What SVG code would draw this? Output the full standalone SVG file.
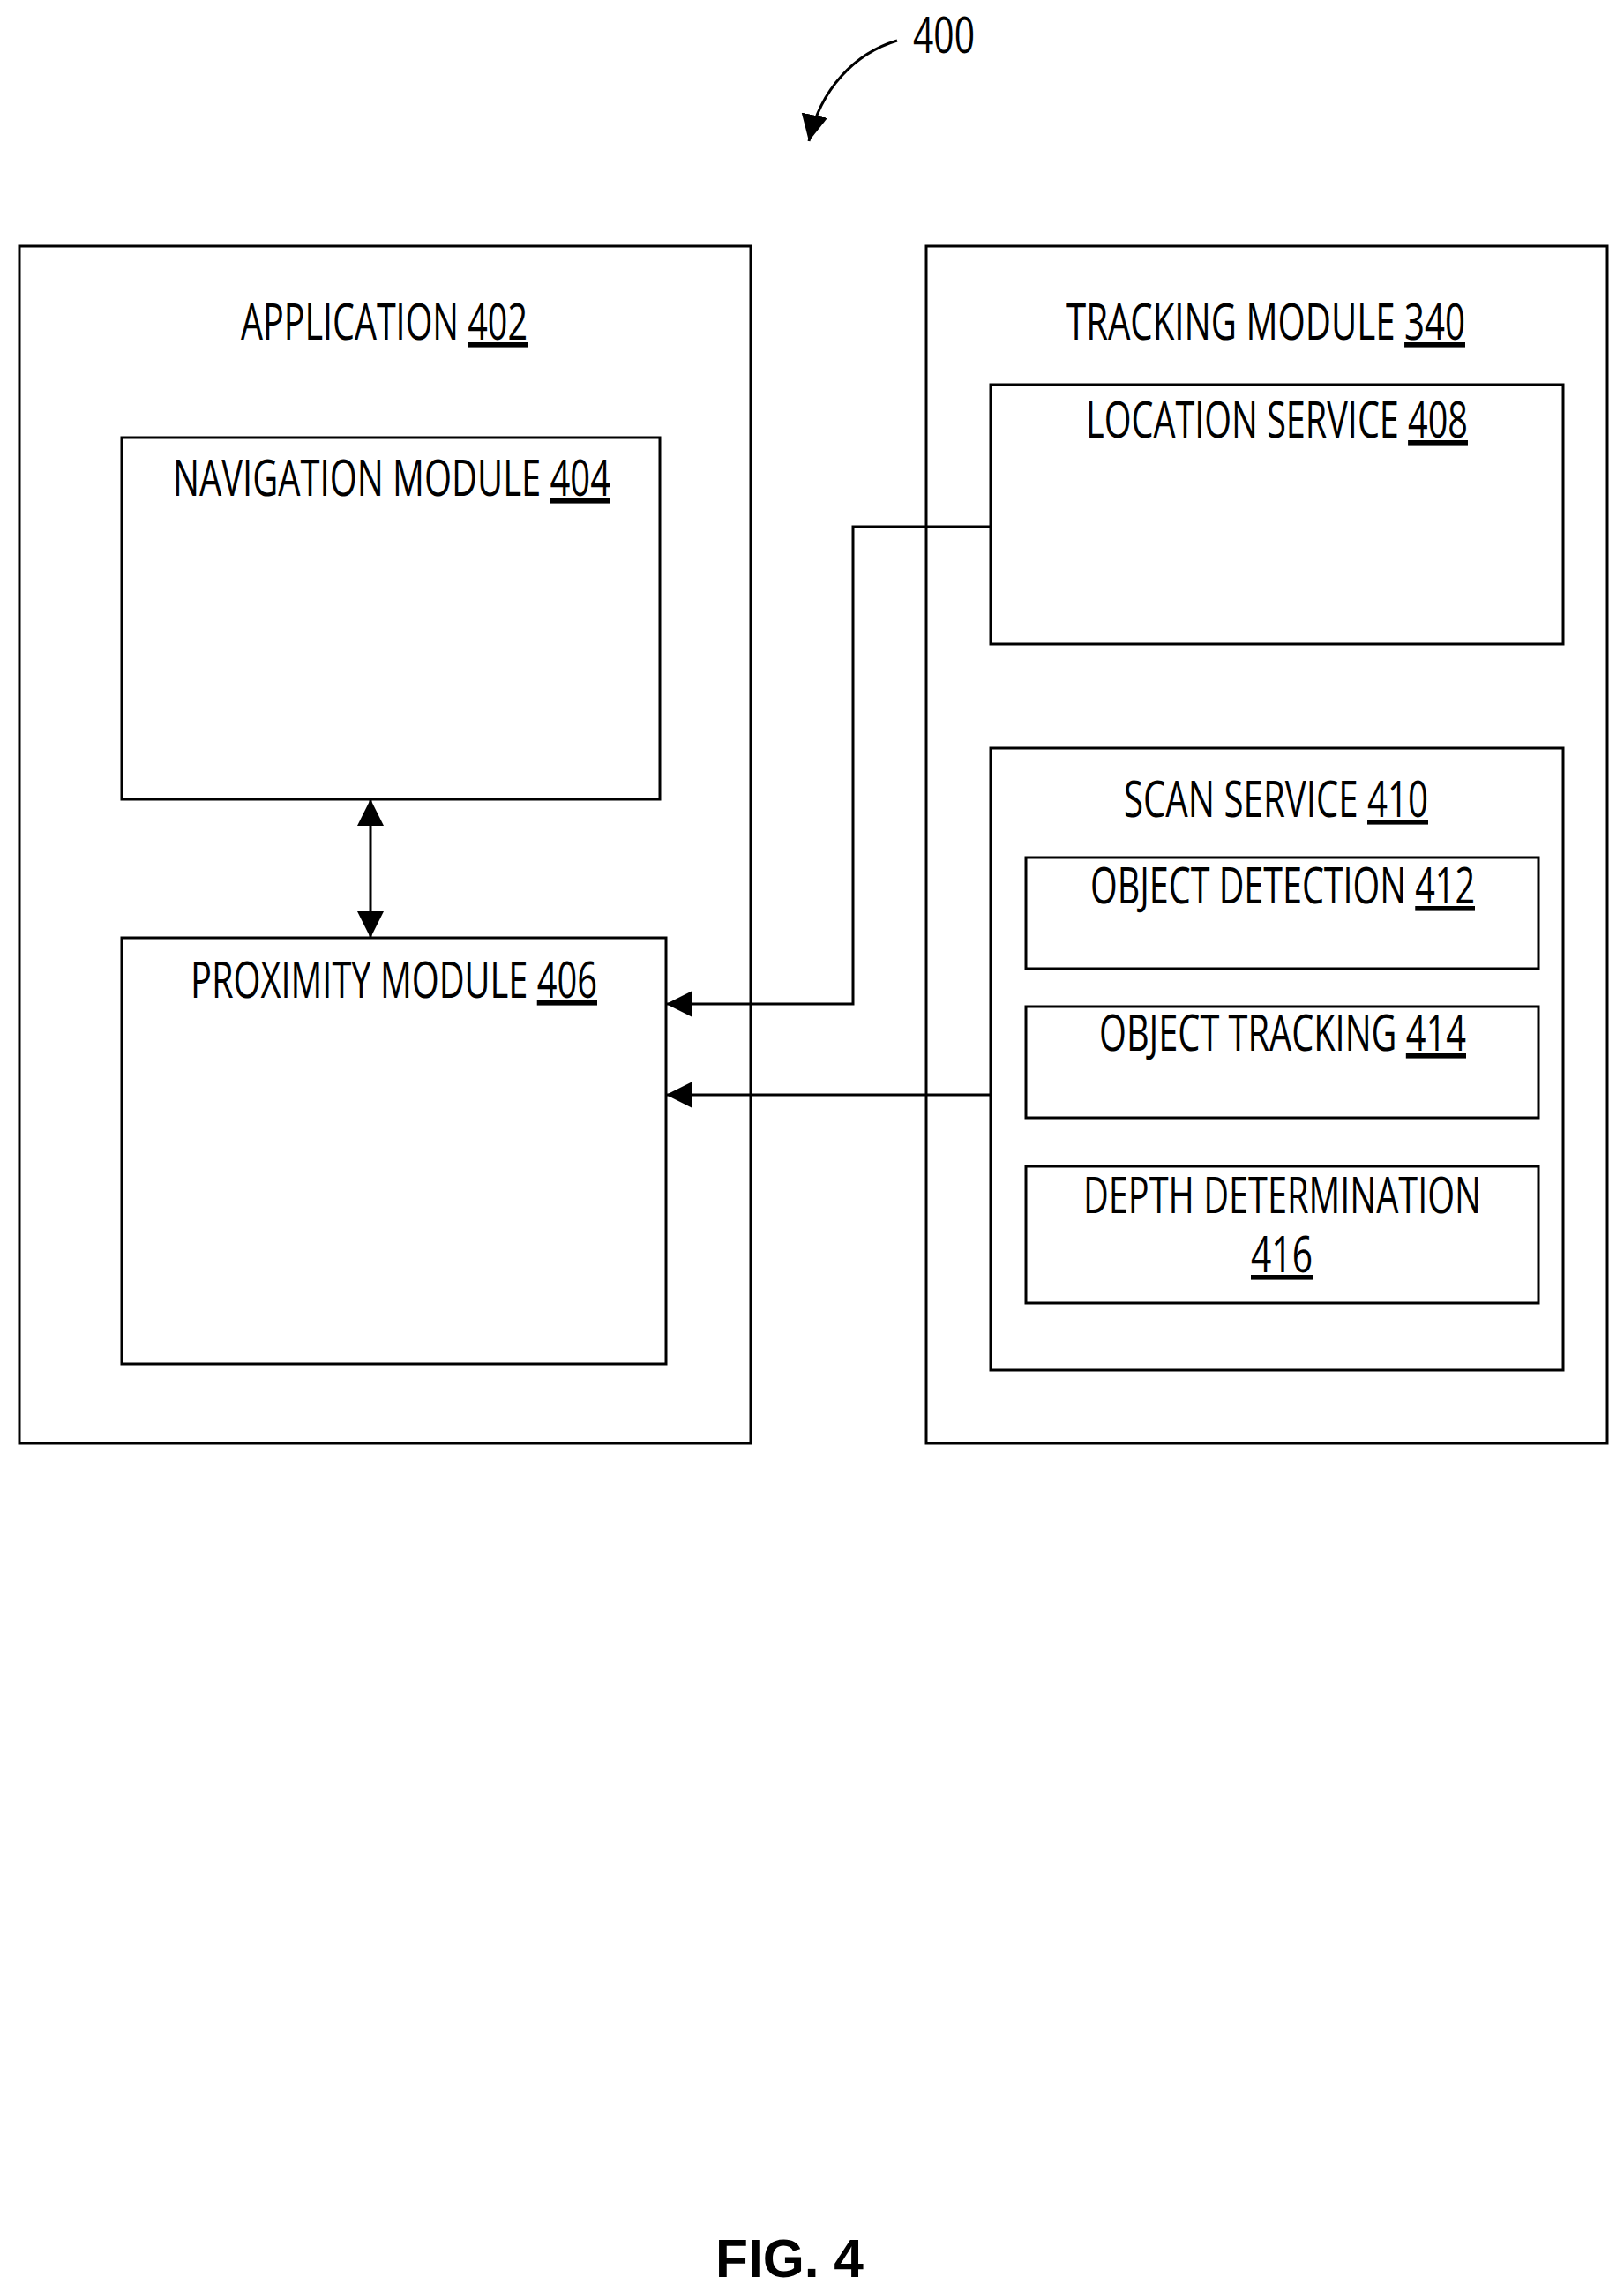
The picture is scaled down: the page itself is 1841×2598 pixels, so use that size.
<svg xmlns="http://www.w3.org/2000/svg" width="1841" height="2598" viewBox="0 0 1841 2598">
<style>
.b{fill:none;stroke:#000;stroke-width:3}
.t{font-family:"Open Sans","Liberation Sans",sans-serif;font-size:56px;fill:#000;text-anchor:start}
.u{text-decoration:underline}
.c{fill:none;stroke:#000;stroke-width:3}
</style>
<defs>
<marker id="A" viewBox="0 0 10 10" refX="10" refY="5" markerWidth="30" markerHeight="30" markerUnits="userSpaceOnUse" orient="auto-start-reverse"><path d="M0,0L10,5L0,10z" fill="#000"/></marker>
</defs>
<rect width="1841" height="2598" fill="#fff"/>
<g id="n400"><text class="t" x="1035" y="60" textLength="70" lengthAdjust="spacingAndGlyphs">400</text></g>
<g id="n402"><rect class="b" x="22" y="279" width="829" height="1357"/><text class="t" x="273" y="385" textLength="325" lengthAdjust="spacingAndGlyphs">APPLICATION <tspan class="u">402</tspan></text></g>
<g id="n340"><rect class="b" x="1050" y="279" width="772" height="1357"/><text class="t" x="1209" y="385" textLength="452" lengthAdjust="spacingAndGlyphs">TRACKING MODULE <tspan class="u">340</tspan></text></g>
<g id="n404"><rect class="b" x="138" y="496" width="610" height="410"/><text class="t" x="196" y="562" textLength="496" lengthAdjust="spacingAndGlyphs">NAVIGATION MODULE <tspan class="u">404</tspan></text></g>
<g id="n406"><rect class="b" x="138" y="1063" width="617" height="483"/><text class="t" x="216" y="1131" textLength="461" lengthAdjust="spacingAndGlyphs">PROXIMITY MODULE <tspan class="u">406</tspan></text></g>
<g id="n408"><rect class="b" x="1123" y="436" width="649" height="294"/><text class="t" x="1231" y="496" textLength="433" lengthAdjust="spacingAndGlyphs">LOCATION SERVICE <tspan class="u">408</tspan></text></g>
<g id="n410"><rect class="b" x="1123" y="848" width="649" height="705"/><text class="t" x="1274" y="926" textLength="345" lengthAdjust="spacingAndGlyphs">SCAN SERVICE <tspan class="u">410</tspan></text></g>
<g id="n412"><rect class="b" x="1163" y="972" width="581" height="126"/><text class="t" x="1236" y="1024" textLength="436" lengthAdjust="spacingAndGlyphs">OBJECT DETECTION <tspan class="u">412</tspan></text></g>
<g id="n414"><rect class="b" x="1163" y="1141" width="581" height="126"/><text class="t" x="1246" y="1191" textLength="416" lengthAdjust="spacingAndGlyphs">OBJECT TRACKING <tspan class="u">414</tspan></text></g>
<g id="n416"><rect class="b" x="1163" y="1322" width="581" height="155"/><text class="t" x="1228" y="1375" textLength="451" lengthAdjust="spacingAndGlyphs">DEPTH DETERMINATION</text><text class="t u" x="1418" y="1442" textLength="70" lengthAdjust="spacingAndGlyphs">416</text></g>
<g id="connectors">
<path class="c" d="M1017,46 C970,60 930,100 917,160" marker-end="url(#A)"/>
<line class="c" x1="420" y1="906" x2="420" y2="1063" marker-start="url(#A)" marker-end="url(#A)"/>
<polyline class="c" points="1123,597 967,597 967,1138 755,1138" marker-end="url(#A)"/>
<polyline class="c" points="1123,1241 755,1241" marker-end="url(#A)"/>
</g>
<text x="811" y="2581" textLength="168" lengthAdjust="spacingAndGlyphs" style="font-family:'Liberation Sans',Arial,sans-serif;font-weight:bold;font-size:62px">FIG. 4</text>
</svg>
